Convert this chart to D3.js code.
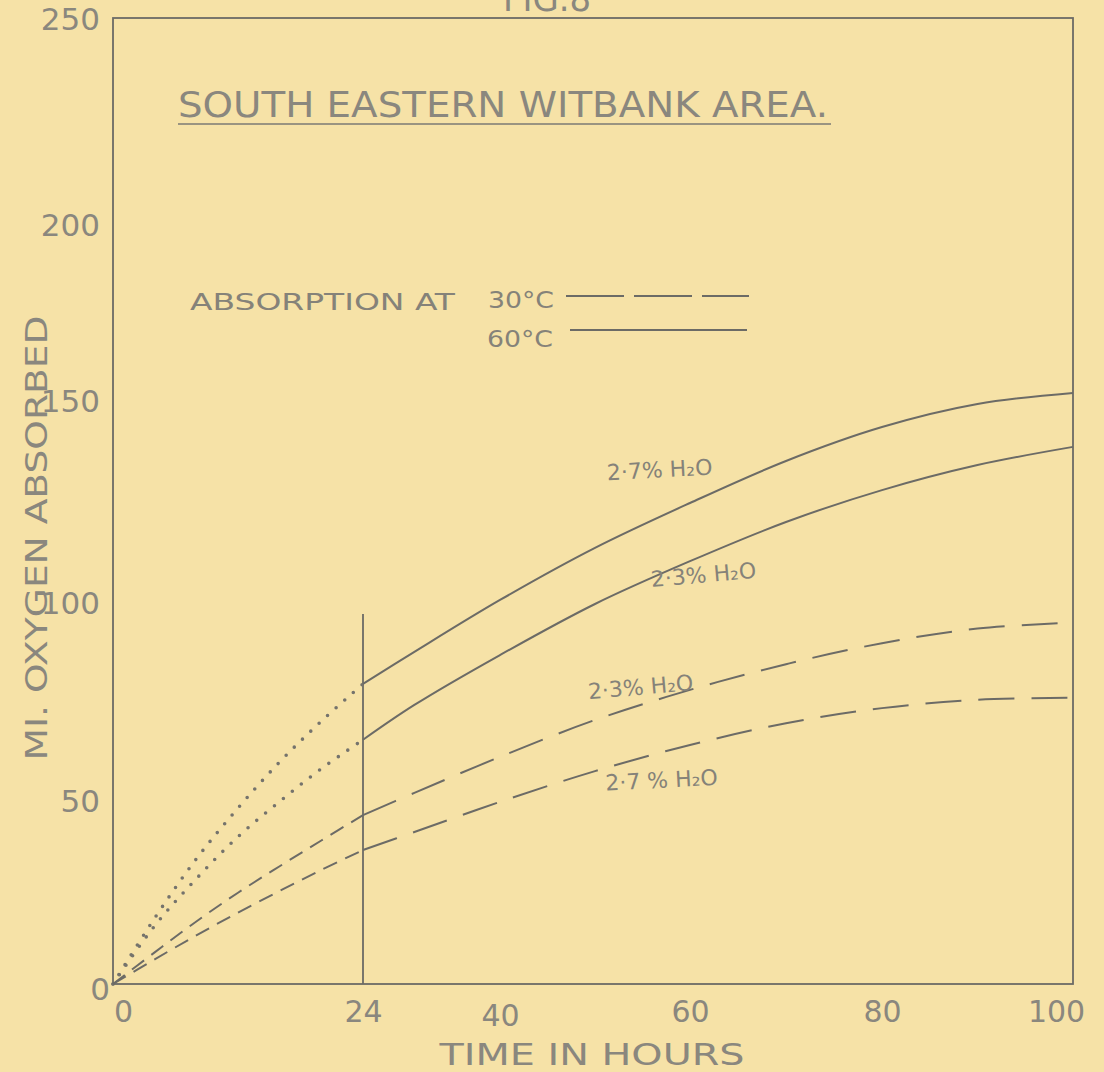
<!DOCTYPE html>
<html>
<head>
<meta charset="utf-8">
<script src="https://cdn.jsdelivr.net/npm/d3@7/dist/d3.min.js"></script>
<style>
  html, body { margin: 0; padding: 0; background: #f6e2a7; }
  svg { display: block; }
  text { font-family: "DejaVu Sans", sans-serif; fill: #858279; }
</style>
</head>
<body>
<svg id="chart" width="1104" height="1072"></svg>
<script>
// ---- data ----
const xTicks = [0, 24, 40, 60, 80, 100];
const yTicks = [0, 50, 100, 150, 200, 250];
const hoursEarly = [0, 4, 8, 12, 16, 20, 24];
const hoursLate = [24, 30, 40, 50, 60, 70, 80, 90, 100];
// 60 °C (dotted up to 24 h, solid after)
const c60_27_early = [0, 17.9, 34.0, 47.8, 59.6, 69.9, 79.3];
const c60_27_late = [79.3, 87.4, 100.5, 113.4, 124.5, 134.9, 143.3, 149.0, 152.0];
const c60_23_early = [0, 15.8, 28.6, 40.0, 49.6, 57.9, 65.2];
const c60_23_late = [65.2, 74.0, 86.6, 99.5, 110.1, 119.8, 127.7, 133.9, 138.4];
// 30 °C (dashed)
const c30_23_early = [0, 8.6, 17.0, 24.8, 32.0, 39.0, 45.9];
const c30_23_late = [45.9, 51.8, 60.9, 70.2, 77.8, 84.3, 89.6, 93.3, 94.8];
const c30_27_early = [0, 6.7, 13.2, 19.4, 25.3, 31.0, 36.4];
const c30_27_late = [36.4, 41.3, 49.5, 57.3, 63.9, 69.4, 73.2, 75.3, 75.8];
const markerHour = 24;
const markerTop = 97;
const titleText = "SOUTH EASTERN WITBANK AREA.";
const figText = "FIG.8";
const xTitle = "TIME IN HOURS";
const yTitle = "MI. OXYGEN ABSORBED";
const legendLead = "ABSORPTION AT";
const legendLabels = ["30°C", "60°C"];
const curveLabels = [
  { text: "2·7% H₂O", hour: 56.8, value: 132.7 },
  { text: "2·3% H₂O", hour: 61.4, value: 106.7 },
  { text: "2·3% H₂O", hour: 54.8, value: 78.5 },
  { text: "2·7 % H₂O", hour: 57.0, value: 55.0 }
];

// ---- drawing ----
const svg = d3.select("#chart");
const ink = "#6c6b66";
const letter = "#8a877e";

// hand-drawn graph paper: uneven spacing reproduced with polylinear scales
const x = d3.scaleLinear().domain(xTicks).range([113, 363, 500, 690, 882, 1073]);
const y = d3.scaleLinear().domain(yTicks).range([984, 800, 602, 400, 224, 18]);

// frame
svg.append("rect")
  .attr("x", x(0)).attr("y", y(250))
  .attr("width", x(100) - x(0)).attr("height", y(0) - y(250))
  .attr("fill", "none").attr("stroke", ink).attr("stroke-width", 1.8);

// axes (labels only)
const yAxis = svg.append("g").attr("transform", `translate(${x(0)},0)`)
  .call(d3.axisLeft(y).tickValues(yTicks).tickSize(0).tickPadding(13));
yAxis.select(".domain").remove();
yAxis.selectAll("text").attr("font-size", 31).attr("font-family", "DejaVu Sans")
  .style("fill", letter)
  .attr("dy", d => d === 0 ? "0.5em" : "0.36em")
  .attr("x", d => d === 0 ? -3 : -13);

const xAxis = svg.append("g").attr("transform", `translate(0,${y(0)})`)
  .call(d3.axisBottom(x).tickValues(xTicks).tickSize(0).tickPadding(20));
xAxis.select(".domain").remove();
xAxis.selectAll("text").attr("font-size", 30).attr("font-family", "DejaVu Sans")
  .style("fill", letter)
  .attr("dx", d => d === 0 ? 10 : (d === 100 ? -17 : 0))
  .attr("dy", d => d === 40 ? "0.74em" : "0.6em");

// vertical 24 h marker
svg.append("line")
  .attr("x1", x(markerHour)).attr("x2", x(markerHour))
  .attr("y1", y(0)).attr("y2", y(markerTop))
  .attr("stroke", ink).attr("stroke-width", 1.8);

const line = d3.line().x(d => x(d[0])).y(d => y(d[1])).curve(d3.curveCatmullRom.alpha(0.5));
const pairs = (hs, vs) => hs.map((h, i) => [h, vs[i]]);

function draw(hs, vs, style) {
  const p = svg.append("path").datum(pairs(hs, vs))
    .attr("d", line).attr("fill", "none").attr("stroke", ink);
  if (style === "dot") p.attr("stroke-width", 3.6).attr("stroke-linecap", "round").attr("stroke-dasharray", "0,11.5").attr("stroke", "#75736c");
  else if (style === "shortdash") p.attr("stroke-width", 2).attr("stroke-dasharray", "15,9");
  else if (style === "longdash") p.attr("stroke-width", 2).attr("stroke-dasharray", "36,17");
  else p.attr("stroke-width", 2);
}
draw(hoursEarly, c60_27_early, "dot");
draw(hoursEarly, c60_23_early, "dot");
draw(hoursLate, c60_27_late, "solid");
draw(hoursLate, c60_23_late, "solid");
draw(hoursEarly, c30_23_early, "shortdash");
draw(hoursEarly, c30_27_early, "shortdash");
draw(hoursLate, c30_23_late, "longdash");
draw(hoursLate, c30_27_late, "longdash");

// curve labels
const rots = [-3, -5, -5, -3];
curveLabels.forEach((c, i) => {
  svg.append("text")
    .attr("x", x(c.hour)).attr("y", y(c.value))
    .attr("text-anchor", "middle").attr("dominant-baseline", "central")
    .attr("font-size", 22)
    .attr("transform", `rotate(${rots[i]},${x(c.hour)},${y(c.value)})`)
    .text(c.text);
});

// title
svg.append("text").attr("x", 178).attr("y", 117).attr("font-size", 35)
  .attr("textLength", 650).attr("lengthAdjust", "spacingAndGlyphs")
  .style("fill", letter).text(titleText);
svg.append("line").attr("x1", 178).attr("x2", 831).attr("y1", 124).attr("y2", 124)
  .attr("stroke", "#7b7a74").attr("stroke-width", 1.6);
svg.append("text").attr("x", 503).attr("y", 11).attr("font-size", 36)
  .attr("textLength", 88).attr("lengthAdjust", "spacingAndGlyphs")
  .style("fill", letter).text(figText);

// legend
svg.append("text").attr("x", 190).attr("y", 310).attr("font-size", 23)
  .attr("textLength", 265).attr("lengthAdjust", "spacingAndGlyphs").text(legendLead);
svg.append("text").attr("x", 488).attr("y", 308).attr("font-size", 23)
  .attr("textLength", 66).attr("lengthAdjust", "spacingAndGlyphs").text(legendLabels[0]);
svg.append("text").attr("x", 487).attr("y", 347).attr("font-size", 23)
  .attr("textLength", 66).attr("lengthAdjust", "spacingAndGlyphs").text(legendLabels[1]);
svg.append("line").attr("x1", 566).attr("x2", 749).attr("y1", 296).attr("y2", 296)
  .attr("stroke", ink).attr("stroke-width", 2).attr("stroke-dasharray", "58,10");
svg.append("line").attr("x1", 570).attr("x2", 747).attr("y1", 330).attr("y2", 330)
  .attr("stroke", ink).attr("stroke-width", 2);

// axis titles
svg.append("text").attr("transform", "translate(47,538) rotate(-90)")
  .attr("text-anchor", "middle").attr("font-size", 31)
  .attr("textLength", 445).attr("lengthAdjust", "spacingAndGlyphs")
  .style("fill", letter).text(yTitle);
svg.append("text").attr("x", 592).attr("y", 1065)
  .attr("text-anchor", "middle").attr("font-size", 30)
  .attr("textLength", 305).attr("lengthAdjust", "spacingAndGlyphs")
  .style("fill", letter).text(xTitle);
</script>
</body>
</html>
